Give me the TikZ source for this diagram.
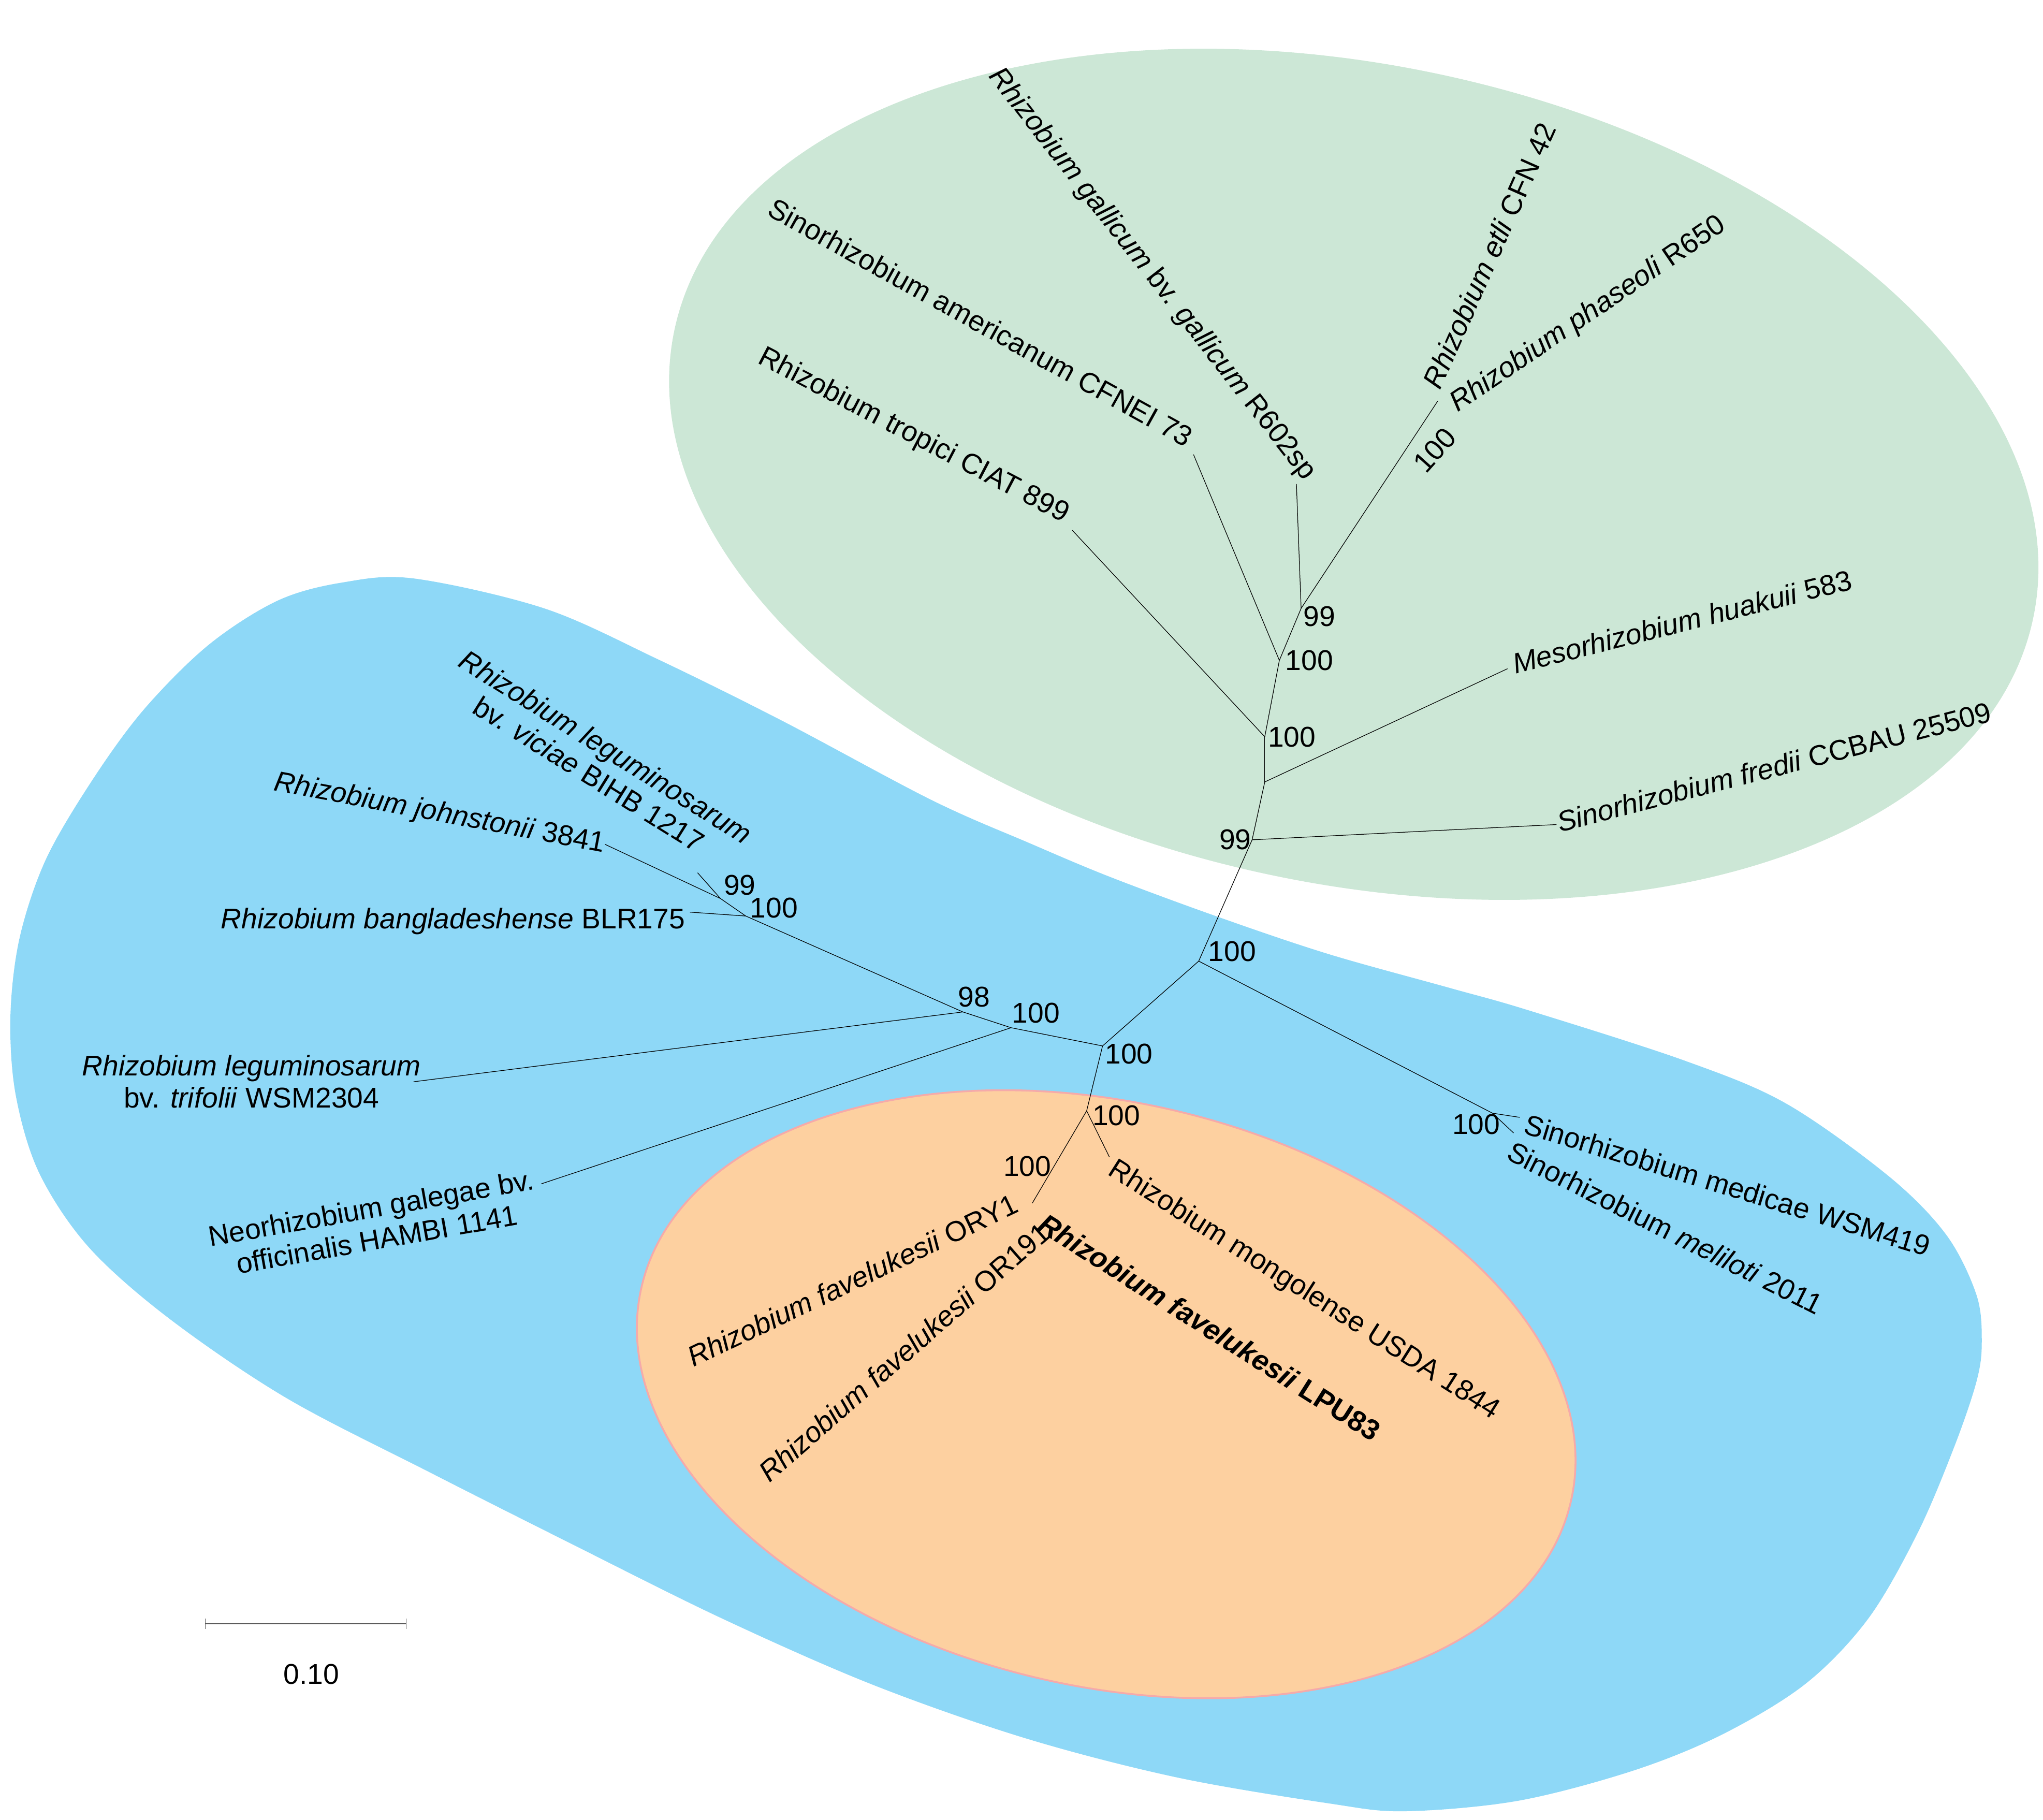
\documentclass[tikz,border=0pt]{standalone}
\usepackage{fontspec}
\setmainfont{Liberation Sans}
\definecolor{gfill}{RGB}{204,231,214}
\definecolor{bfill}{RGB}{142,216,247}
\definecolor{ofill}{RGB}{253,208,160}
\definecolor{oline}{RGB}{245,170,170}
\definecolor{sbar}{RGB}{90,90,90}
\begin{document}
\begin{tikzpicture}[x=0.025cm,y=-0.025cm,
  br/.style={line width=0.35pt, black},
  lab/.style={inner sep=0pt, font=\fontsize{15.6pt}{17.4pt}\selectfont},
  bs/.style={inner sep=0pt, font=\fontsize{15.6pt}{17.4pt}\selectfont},
]
\useasboundingbox (0,0) rectangle (1568,1396.7);
\fill[white] (0,0) rectangle (1568,1396.7);

% clade backgrounds
\fill[gfill, rotate around={-12:(1039,364)}] (1039,364) ellipse [x radius=533, y radius=314];
\fill[bfill] plot[smooth cycle, tension=0.55] coordinates {
 (318,444) (418,467) (505,506) (600,553) (715,614) (790,647) (852,673)
 (933,703) (1019,732) (1112,758) (1172,775) (1293,814) (1371,847)
 (1450,903) (1494,948) (1517,994) (1521,1030) (1517,1060) (1500,1110)
 (1472,1176) (1434,1242) (1386,1292) (1322,1331) (1253,1359) (1165,1382)
 (1078,1390) (1020,1384) (903,1364) (787,1334) (670,1293) (554,1242)
 (437,1184) (330,1130) (220,1073) (130,1012) (68,957) (30,900) (12,840)
 (8,780) (15,720) (35,660) (70,600) (110,545) (160,495) (213,461) (263,447)};
\filldraw[fill=ofill, draw=oline, line width=1pt, rotate around={-13:(849,1070)}] (849,1070) ellipse [x radius=366, y radius=224];

% tree coordinates
\coordinate (tGal) at (995,371.5);
\coordinate (tAme) at (916,348.8);
\coordinate (tTro) at (823,407);
\coordinate (nEP) at (1103.5,307.7);
\coordinate (n99a) at (998.6,466.9);
\coordinate (n100b) at (981.9,506.8);
\coordinate (n100c) at (970.7,565.4);
\coordinate (nMes) at (970.7,600.1);
\coordinate (tMes) at (1157,513.2);
\coordinate (n99d) at (961,644.5);
\coordinate (tFre) at (1194.6,632.8);
\coordinate (n100e) at (920,737.6);
\coordinate (nSin) at (1145.5,854.3);
\coordinate (tMed) at (1166.4,857.5);
\coordinate (tMel) at (1161.7,869.5);
\coordinate (n100f) at (846.2,802.7);
\coordinate (n100g) at (776,788.7);
\coordinate (n98) at (739,776.6);
\coordinate (tTri) at (317.4,830.2);
\coordinate (tNeo) at (415.5,908.5);
\coordinate (n100j) at (572.4,703);
\coordinate (tBan) at (529.5,700);
\coordinate (n99k) at (553,689.6);
\coordinate (tJoh) at (464.4,648);
\coordinate (tVic) at (535.4,669.8);
\coordinate (n100h) at (834,852.5);
\coordinate (tMon) at (851.5,888);
\coordinate (n100i) at (792.3,923.3);

% branches
\draw[br] (tGal) -- (n99a);
\draw[br] (nEP) -- (n99a);
\draw[br] (n99a) -- (n100b);
\draw[br] (tAme) -- (n100b);
\draw[br] (n100b) -- (n100c);
\draw[br] (tTro) -- (n100c);
\draw[br] (n100c) -- (nMes);
\draw[br] (nMes) -- (tMes);
\draw[br] (nMes) -- (n99d);
\draw[br] (n99d) -- (tFre);
\draw[br] (n99d) -- (n100e);
\draw[br] (n100e) -- (nSin);
\draw[br] (nSin) -- (tMed);
\draw[br] (nSin) -- (tMel);
\draw[br] (n100e) -- (n100f);
\draw[br] (n100f) -- (n100g);
\draw[br] (n100g) -- (n98);
\draw[br] (n98) -- (tTri);
\draw[br] (n100g) -- (tNeo);
\draw[br] (n98) -- (n100j);
\draw[br] (n100j) -- (tBan);
\draw[br] (n100j) -- (n99k);
\draw[br] (n99k) -- (tJoh);
\draw[br] (n99k) -- (tVic);
\draw[br] (n100f) -- (n100h);
\draw[br] (n100h) -- (tMon);
\draw[br] (n100h) -- (n100i);

% leaf labels
\node[lab, rotate=-52] (lGal) at (884,210.5) {\textit{Rhizobium gallicum} bv. \textit{gallicum} R602sp};
\node[lab, rotate=-29] (lAme) at (752.7,247.3) {Sinorhizobium americanum CFNEI 73};
\node[lab, rotate=-27.6] (lTro) at (701,334.7) {Rhizobium tropici CIAT 899};
\node[lab, rotate=66] (lEtl) at (1143,196) {\textit{Rhizobium etli} CFN 42};
\node[lab, rotate=34.2] (lPha) at (1219,241.5) {\textit{Rhizobium phaseoli} R650};
\node[lab, rotate=14.1] (lMes) at (1291,477) {\textit{Mesorhizobium huakuii} 583};
\node[lab, rotate=14.4] (lFre) at (1361.5,588.4) {\textit{Sinorhizobium fredii} CCBAU 25509};
\node[lab, rotate=-32, align=center] (lVic) at (458.5,583.5) {\textit{Rhizobium leguminosarum}\\bv. \textit{viciae} BIHB 1217};
\node[lab, rotate=-10.7] (lJoh) at (337.4,624.8) {\textit{Rhizobium johnstonii} 3841};
\node[lab, anchor=base] (lBan) at (347.7,712.6) {\textit{Rhizobium bangladeshense} BLR175};
\node[lab, align=center] (lTri) at (193,830) {\textit{Rhizobium leguminosarum}\\bv. \textit{trifolii} WSM2304};
\node[lab, rotate=10, align=center] (lNeo) at (287,939) {Neorhizobium galegae bv.\\officinalis HAMBI 1141};
\node[lab, rotate=-17] (lMed) at (1326,909.5) {Sinorhizobium medicae WSM419};
\node[lab, rotate=-26.7] (lMel) at (1278,942.3) {Sinorhizobium \textit{meliloti} 2011};
\node[lab, rotate=25.5] (lORY) at (654.2,982.5) {\textit{Rhizobium favelukesii} ORY1};
\node[lab, rotate=41.2] (lOR1) at (693.9,1037.5) {\textit{Rhizobium favelukesii} OR191};
\node[lab, rotate=-32.3] (lLPU) at (928.3,1018.5) {\textbf{\textit{Rhizobium favelukesii} LPU83}};
\node[lab, rotate=-32.5] (lMon) at (1000.5,990.5) {Rhizobium mongolense USDA 1844};

% bootstrap values
\node[bs] (b99a) at (1012.7,473) {99};
\node[bs] (b100b) at (1004.8,507) {100};
\node[bs] (b100c) at (991.5,565.7) {100};
\node[bs] (b99d) at (948,644.5) {99};
\node[bs] (b100e) at (945.6,730) {100};
\node[bs] (b98) at (747.5,765) {98};
\node[bs] (b100g) at (795,777.5) {100};
\node[bs] (b100f) at (866.5,809) {100};
\node[bs] (b100h) at (856.8,856) {100};
\node[bs] (b100i) at (788.5,895) {100};
\node[bs] (b99k) at (567.8,679.3) {99};
\node[bs] (b100j) at (594,696.8) {100};
\node[bs] (b100s) at (1133,862.8) {100};
\node[bs, rotate=48] (b100ep) at (1101,345.4) {100};

% scale bar
\coordinate (sbL) at (157.5,1246);
\coordinate (sbR) at (311.8,1246);
\draw[line width=0.5pt, sbar] (sbL) -- (sbR);
\draw[line width=0.3pt, sbar] (sbL) ++(0,-4) -- ++(0,8);
\draw[line width=0.3pt, sbar] (sbR) ++(0,-4) -- ++(0,8);
\node[bs] (sbT) at (239,1285) {0.10};
\end{tikzpicture}
\end{document}
